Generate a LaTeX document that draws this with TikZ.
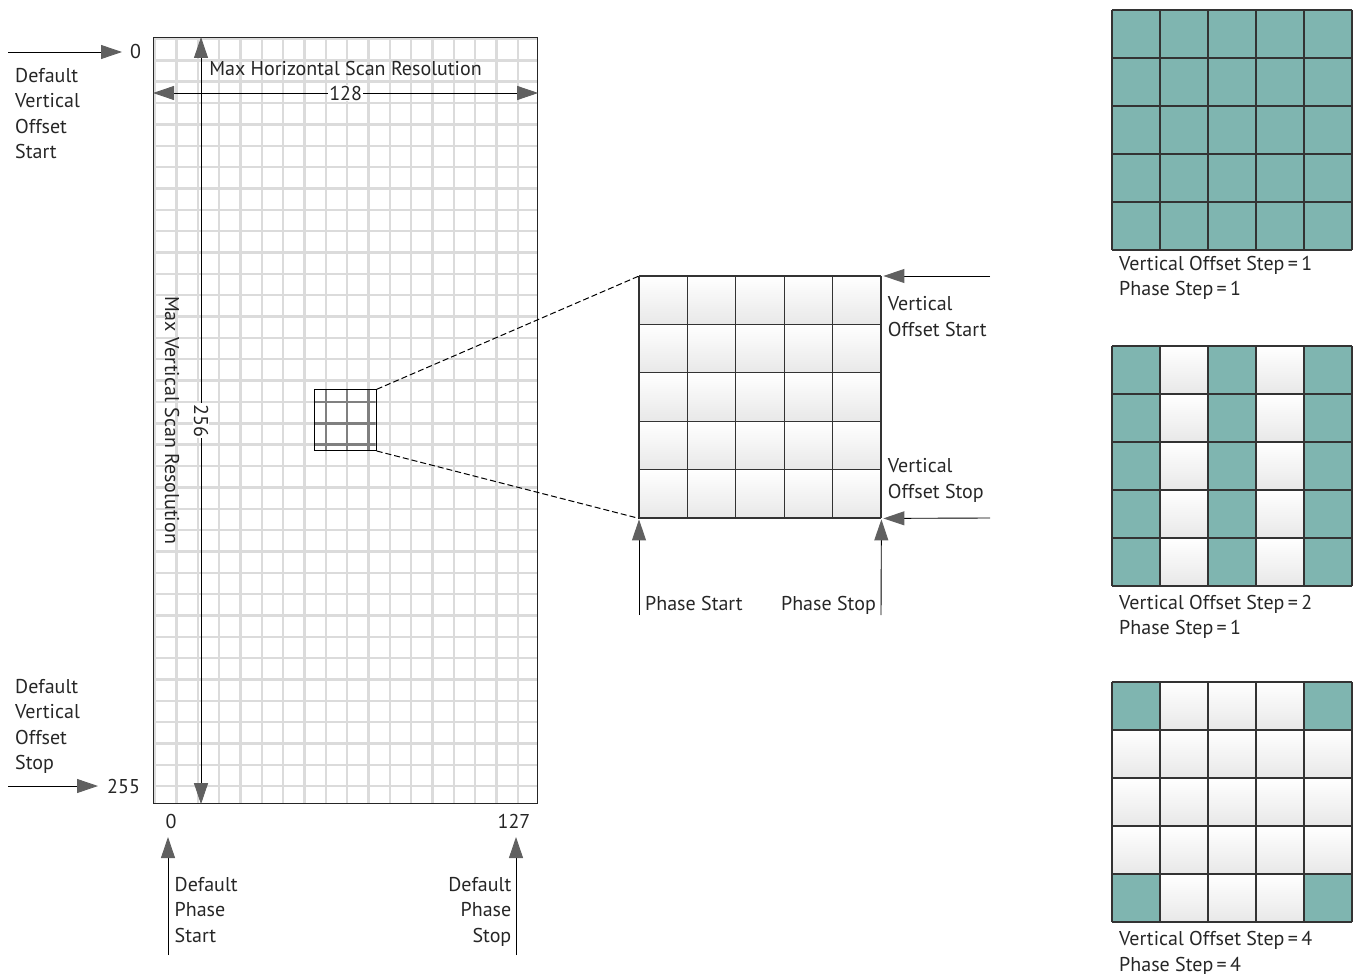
\documentclass[tikz,border=0pt]{standalone}
\usepackage{fontspec}
\setmainfont{PT Sans}
\usetikzlibrary{arrows.meta,positioning}
\definecolor{verde}{RGB}{127,181,176}
\definecolor{gris}{RGB}{96,96,96}

\begin{document}
\begin{tikzpicture}
	[x=1pt,y=-1pt,
	texto/.style={inner sep=0pt,text=black!85,
		font=\fontsize{20}{25.5}\selectfont,align=left},
	rejilla/.style={draw=black!14,line width=2.4pt},
	rejilla2/.style={draw=black!50,line width=2.4pt},
	celda/.style={top color=white,bottom color=black!9},
	lineas/.style={draw=black!80,line width=1.3pt},
	flecha/.style={draw=black,line width=0.9pt,
		-{Triangle[length=21pt,width=14pt,color=gris]}},
	doble/.style={draw=black,line width=0.9pt,
		{Triangle[length=21pt,width=14pt,color=gris]}-{Triangle[length=21pt,width=14pt,color=gris]}}]
	\useasboundingbox (0,0) rectangle (1353,974);
	%malla grande
	\foreach \k in {0,...,17} \draw[rejilla] ({155+21.35*\k},37) -- ++(0,766);
	\foreach \k in {0,...,35} \draw[rejilla] (153,{39+21.35*\k}) -- ++(384,0);
	\node[draw=black!85,line width=1.2pt,minimum width=384pt,minimum height=766pt,
		inner sep=0pt,anchor=north west] (malla) at (153,37) {};
	%zona ampliada
	\begin{scope}
		\clip (314,389.3) rectangle (375.7,450);
		\foreach \k in {8,9,10} \draw[rejilla2] ({155+21.35*\k},389.3) -- ++(0,61);
		\foreach \k in {17,18,19} \draw[rejilla2] (314,{39+21.35*\k}) -- ++(62,0);
	\end{scope}
	\node[draw=black,line width=1pt,minimum width=61.7pt,minimum height=60.7pt,
		inner sep=0pt,anchor=north west] (caja) at (314,389.3) {};
	%resoluciones
	\node at (172,420) [texto,rotate=-90] (maxv) {Max Vertical Scan Resolution};
	\draw[doble] ([xshift=48pt]malla.north west) -- node[texto,fill=white,inner sep=1pt,rotate=-90] (n256) {256} ([xshift=48pt]malla.south west);
	\node at (345.5,69) [texto] (maxh) {Max Horizontal Scan Resolution};
	\draw[doble] ([yshift=-56pt]malla.north west) -- node[texto,fill=white,inner sep=1pt] (n128) {128} ([yshift=-56pt]malla.north east);
	%valores por defecto
	\coordinate (vos-a) at (8,52);
	\node at (130,52) [texto,anchor=west] (cero) {0};
	\draw[flecha] (vos-a) -- ([xshift=-8pt]cero.west);
	\node at (15,158.5) [texto,anchor=base west] (dvos) {Default\\Vertical\\Offset\\Start};
	\node at (15,769.5) [texto,anchor=base west] (dvostop) {Default\\Vertical\\Offset\\Stop};
	\coordinate (vosstop-a) at (8,786);
	\node at (107,786) [texto,anchor=west] (n255) {255};
	\draw[flecha] (vosstop-a) -- ([xshift=-9pt]n255.west);
	\node at (171,821) [texto] (c0) {0};
	\node at (514,821) [texto] (c127) {127};
	\coordinate (fs-a) at (168,955);
	\coordinate (fs-b) at (168,837);
	\draw[flecha] (fs-a) -- (fs-b);
	\coordinate (fp-a) at (516,955);
	\coordinate (fp-b) at (516,837);
	\draw[flecha] (fp-a) -- (fp-b);
	\node at (174.5,942) [texto,anchor=base west] (dps) {Default\\Phase\\Start};
	\node at (511.5,942) [texto,anchor=base east,align=right] (dpstop) {Default\\Phase\\Stop};
	%malla ampliada
	\foreach \i in {0,...,4}{
		\foreach \j in {0,...,4}{
			\shade[celda] ({639+48.4*\i},{276+48.4*\j}) rectangle ++(48.4,48.4);}}
	\foreach \k in {0,...,5}{
		\draw[lineas] ({639+48.4*\k},276) -- ++(0,242);
		\draw[lineas] (639,{276+48.4*\k}) -- ++(242,0);}
	\node[minimum width=242pt,minimum height=242pt,inner sep=0pt,anchor=north west] (zoom) at (639,276) {};
	\draw[dash pattern=on 6pt off 3pt,line width=1pt] (caja.north east) -- (zoom.north west);
	\draw[dash pattern=on 6pt off 3pt,line width=1pt] (caja.south east) -- (zoom.south west);
	\coordinate (vs-a) at (990,276);
	\coordinate (ve-a) at (990,518);
	\draw[flecha] (vs-a) -- ([xshift=2pt]zoom.north east);
	\draw[flecha] (ve-a) -- ([xshift=2pt]zoom.south east);
	\node at (887.7,336) [texto,anchor=base west] (vostart) {Vertical\\Offset Start};
	\node at (887.7,498) [texto,anchor=base west] (vostop) {Vertical\\Offset Stop};
	\coordinate (ps-a) at (639,615);
	\coordinate (pt-a) at (881,615);
	\draw[flecha] (ps-a) -- ([yshift=-1pt]zoom.south west);
	\draw[flecha] (pt-a) -- ([yshift=-1pt]zoom.south east);
	\node at (645,610) [texto,anchor=base west] (pstart) {Phase Start};
	\node at (876,610) [texto,anchor=base east] (pstop) {Phase Stop};
	%pasos
	\fill[verde] (1112,10) rectangle ++(240,240);
	\foreach \y in {346,682}{
		\foreach \i in {0,...,4}{
			\foreach \j in {0,...,4}{
				\shade[celda] ({1112+48*\i},{\y+48*\j}) rectangle ++(48,48);}}}
	\foreach \i in {0,2,4} \fill[verde] ({1112+48*\i},346) rectangle ++(48,240);
	\foreach \i in {0,4}{
		\foreach \j in {0,4}{
			\fill[verde] ({1112+48*\i},{682+48*\j}) rectangle ++(48,48);}}
	\foreach \y in {10,346,682}{
		\foreach \k in {0,...,5}{
			\draw[lineas] ({1112+48*\k},\y) -- ++(0,240);
			\draw[lineas] (1112,{\y+48*\k}) -- ++(240,0);}}
	\node at (1119,295.5) [texto,anchor=base west] (paso1) {Vertical Offset Step\,=\,1\\Phase Step\,=\,1};
	\node at (1119,634.5) [texto,anchor=base west] (paso2) {Vertical Offset Step\,=\,2\\Phase Step\,=\,1};
	\node at (1119,971) [texto,anchor=base west] (paso4) {Vertical Offset Step\,=\,4\\Phase Step\,=\,4};
\end{tikzpicture}
\end{document}
